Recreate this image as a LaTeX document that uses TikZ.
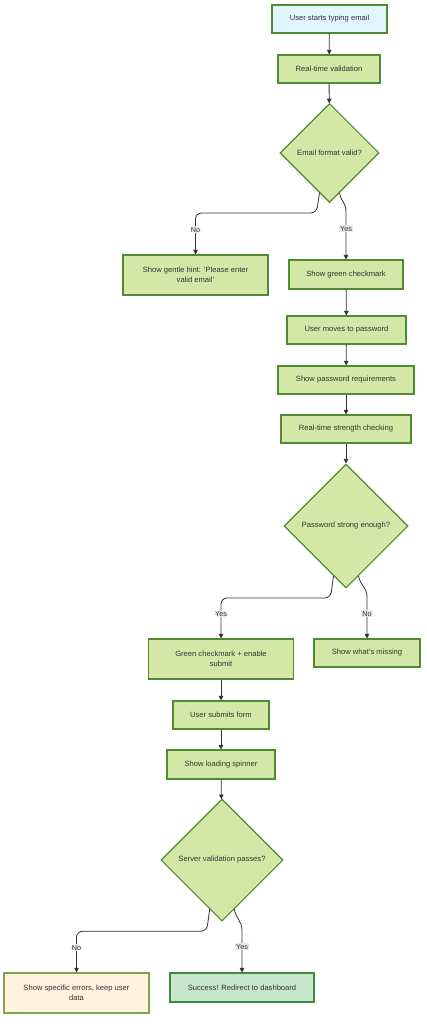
\documentclass[tikz,border=0pt]{standalone}
\usepackage{fontspec}
\setmainfont{Liberation Sans}
\usetikzlibrary{shapes.geometric,arrows.meta,calc}
\definecolor{startfill}{HTML}{E1F5FE}
\definecolor{stepfill}{HTML}{D3E8A6}
\definecolor{stepline}{HTML}{4E8C2F}
\definecolor{errfill}{HTML}{FFF3E0}
\definecolor{errline}{HTML}{7AA84A}
\definecolor{okfill}{HTML}{C8E6C9}
\definecolor{okline}{HTML}{3D8B40}
\definecolor{ink}{HTML}{333333}
\tikzset{
  stepbox/.style={draw=stepline, fill=stepfill, line width=1.1pt, minimum height=28pt,
    align=center, text=ink, font=\fontsize{7.6}{10}\selectfont},
  decision/.style={stepbox, diamond, aspect=1, inner sep=0pt},
  arr/.style={draw=ink, line width=0.8pt, -{Triangle[length=4.5pt,width=4.5pt]}},
  lbl/.style={fill=gray!18, inner sep=1pt, text=ink, font=\fontsize{7.2}{8}\selectfont}
}
\begin{document}
\begin{tikzpicture}[x=1pt, y=-1pt]
	\useasboundingbox (0, 0) rectangle (427, 1024);
	\node (start) at (329.5, 19) [stepbox, fill=startfill, minimum width=115pt] {User starts typing email};
	\node (valid) at (329, 69) [stepbox, minimum width=102pt] {Real-time validation};
	\node (emailq) at (329.5, 153) [decision, minimum size=99pt] {Email format valid?};
	\node (hint) at (195.5, 275) [stepbox, minimum width=145pt, minimum height=40pt] {Show gentle hint: 'Please enter\\valid email'};
	\node (check) at (346, 274.5) [stepbox, minimum width=114pt, minimum height=29pt] {Show green checkmark};
	\node (moves) at (346.5, 330) [stepbox, minimum width=119pt] {User moves to password};
	\node (reqs) at (346, 380) [stepbox, minimum width=136pt] {Show password requirements};
	\node (strength) at (346, 429) [stepbox, minimum width=130pt] {Real-time strength checking};
	\node (pwq) at (346, 526) [decision, minimum size=124pt] {Password strong enough?};
	\node (enable) at (221, 659) [stepbox, minimum width=145pt, minimum height=40pt] {Green checkmark + enable\\submit};
	\node (missing) at (367, 653) [stepbox, minimum width=106pt] {Show what's missing};
	\node (submits) at (221, 715) [stepbox, minimum width=96pt] {User submits form};
	\node (spinner) at (221, 764.5) [stepbox, minimum width=108pt, minimum height=29pt] {Show loading spinner};
	\node (serverq) at (222, 860) [decision, minimum size=122pt] {Server validation passes?};
	\node (errors) at (76.5, 993) [stepbox, fill=errfill, draw=errline, minimum width=145pt, minimum height=40pt] {Show specific errors, keep user\\data};
	\node (success) at (242, 987.5) [stepbox, fill=okfill, draw=okline, minimum width=144pt, minimum height=29pt] {Success! Redirect to dashboard};

	\draw [arr] (start) -- (valid);
	\draw [arr] (valid) -- (emailq);
	\draw [arr, rounded corners=6pt] ($(emailq.south)!0.2!(emailq.west)$) -- ++(-3, 20) -| (hint.north) node [lbl, pos=0.7] {No};
	\draw [arr] ($(emailq.south)!0.2!(emailq.east)$) .. controls +(2, 10) and +(0, -10) .. (check.north |- 0, 212) -- (check.north) node [lbl, pos=0.35] {Yes};
	\draw [arr] (check) -- (moves);
	\draw [arr] (moves) -- (reqs);
	\draw [arr] (reqs) -- (strength);
	\draw [arr] (strength) -- (pwq);
	\draw [arr, rounded corners=6pt] ($(pwq.south)!0.2!(pwq.west)$) -- ++(-3, 22) -| (enable.north) node [lbl, pos=0.7] {Yes};
	\draw [arr] ($(pwq.south)!0.2!(pwq.east)$) .. controls +(2, 10) and +(0, -10) .. (missing.north |- 0, 597) -- (missing.north) node [lbl, pos=0.4] {No};
	\draw [arr] (enable) -- (submits);
	\draw [arr] (submits) -- (spinner);
	\draw [arr] (spinner) -- (serverq);
	\draw [arr, rounded corners=6pt] ($(serverq.south)!0.2!(serverq.west)$) -- ++(-3, 22) -| (errors.north) node [lbl, pos=0.7] {No};
	\draw [arr] ($(serverq.south)!0.2!(serverq.east)$) .. controls +(2, 10) and +(0, -10) .. (success.north |- 0, 931) -- (success.north) node [lbl, pos=0.38] {Yes};
\end{tikzpicture}
\end{document}
